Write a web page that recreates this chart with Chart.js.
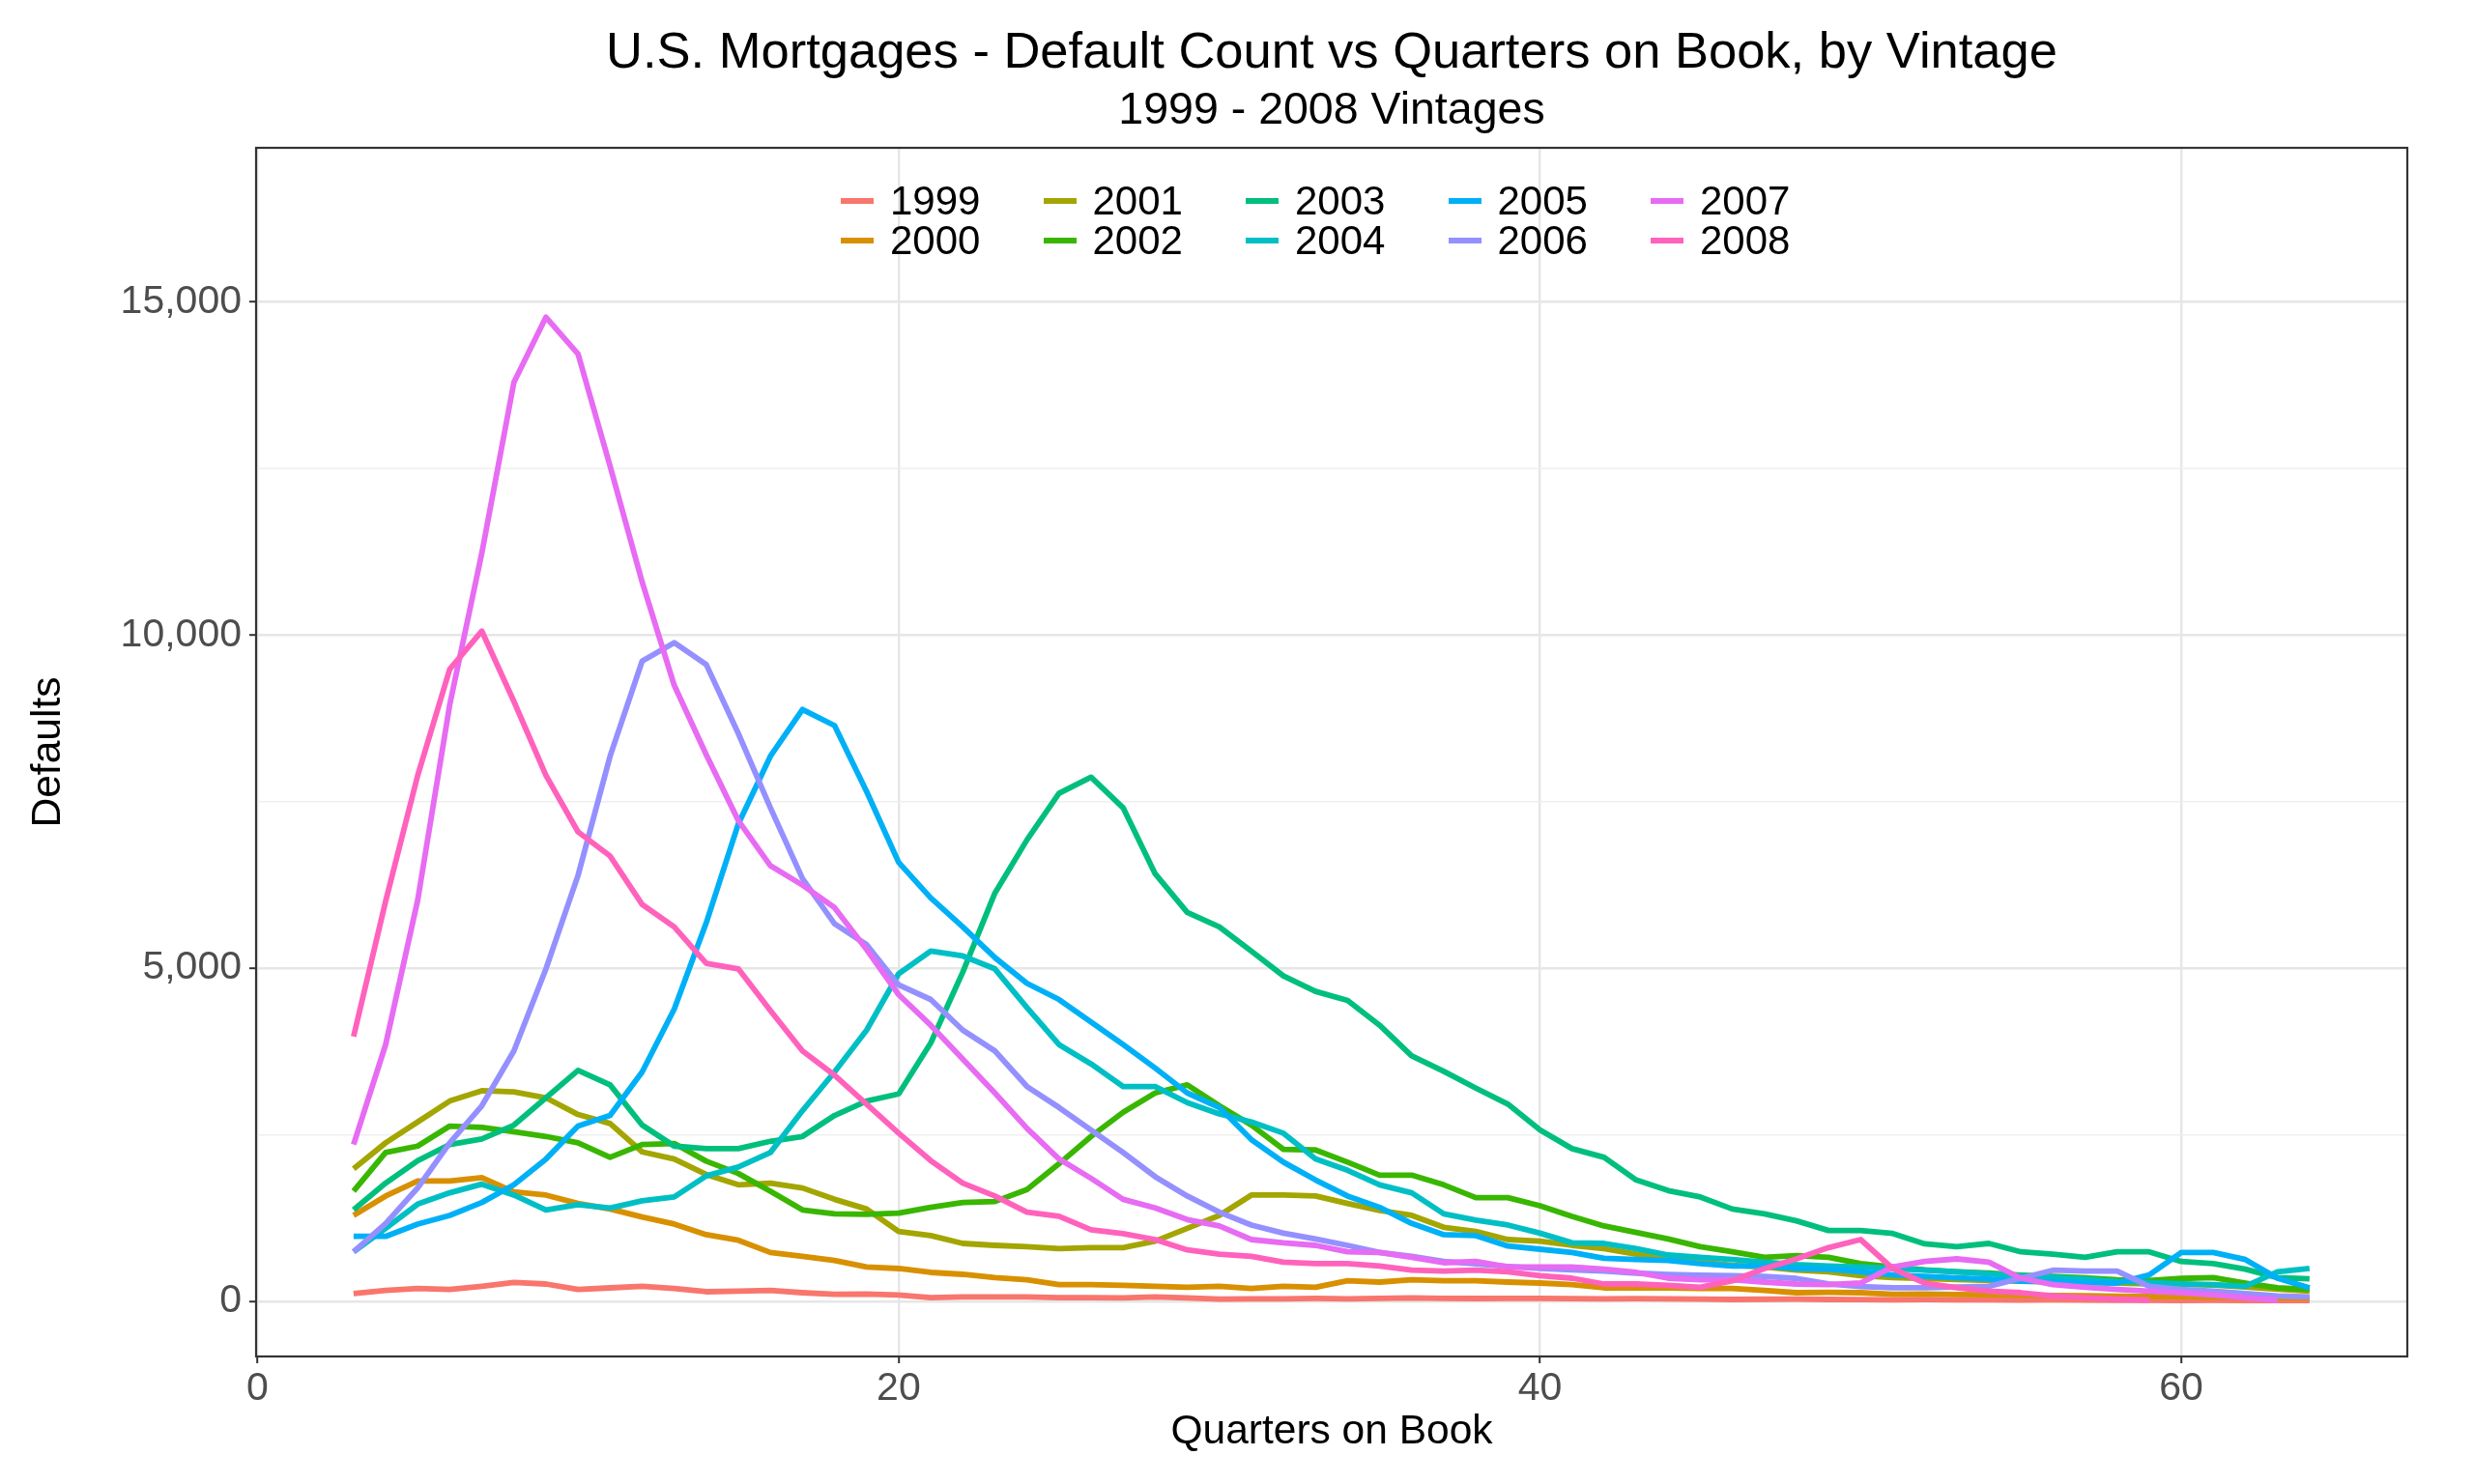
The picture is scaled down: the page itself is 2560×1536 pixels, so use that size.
<!DOCTYPE html>
<html>
<head>
<meta charset="utf-8">
<script src="https://cdn.jsdelivr.net/npm/chart.js@4.4.1/dist/chart.umd.min.js"></script>
<style>
  html, body { margin: 0; padding: 0; background: #ffffff; }
  #wrap { position: relative; width: 2560px; height: 1536px; background: #ffffff; }
  #c { position: absolute; left: 0; top: 0; }
  #legend {
    position: absolute; left: 870px; top: 187px;
    display: grid; grid-template-columns: repeat(5, 209.5px); grid-template-rows: repeat(2, 41px);
    grid-auto-flow: column;
    font-family: 'Liberation Sans', Arial, sans-serif; font-size: 42px; color: #000;
  }
  #legend .item { display: flex; align-items: center; height: 41px; line-height: 41px; white-space: nowrap; }
  #legend .key { display: inline-block; width: 34px; height: 6px; margin-right: 17px; }
</style>
</head>
<body>
<div id="wrap">
  <canvas id="c" width="2560" height="1536"></canvas>
  <div id="legend"></div>
</div>
<script>
// ---------------- data ----------------
const quarters = [3,4,5,6,7,8,9,10,11,12,13,14,15,16,17,18,19,20,21,22,23,24,25,26,27,28,29,30,31,32,33,34,35,36,37,38,39,40,41,42,43,44,45,46,47,48,49,50,51,52,53,54,55,56,57,58,59,60,61,62,63,64];
const xTicks = [0, 20, 40, 60];
const yTicks = [0, 5000, 10000, 15000];
const yMinorTicks = [2500, 7500, 12500];
const vintages = ['1999','2000','2001','2002','2003','2004','2005','2006','2007','2008'];
const colors = ['#F8766D','#D89000','#A3A500','#39B600','#00BF7D','#00BFC4','#00B0F6','#9590FF','#E76BF3','#FF62BC'];

const v1999 = [112,160,189,174,222,280,257,174,199,222, 189,141,150,160,126,102,107,92,53,63, 63,63,53,53,48,63,48,29,35,35, 40,35,40,48,40,39,40,42,38,35, 38,35,30,25,28,30,25,22,20,22, 20,18,15,18,15,12,12,10,12,10, 8,8];
const v2000 = [1287,1578,1804,1804,1853,1640,1592,1466,1383,1263, 1157,997,914,730,672,610,512,489,431,402, 353,319,247,247,237,222,208,222,189,222, 208,305,286,319,305,305,286,271,247,199, 199,199,189,189,160,126,131,126,102,107, 100,95,90,85,80,75,70,65,60,55, 50,45];
const v2001 = [1988,2376,2690,3004,3159,3140,3052,2801,2666,2240, 2134,1900,1746,1771,1698,1528,1383,1045,983,866, 837,817,788,803,803,900,1093,1287,1592,1592, 1578,1466,1360,1287,1108,1045,924,900,837,788, 706,634,585,537,512,464,440,382,353,340, 325,310,300,290,280,270,260,250,240,210, 180,150];
const v2002 = [1650,2231,2327,2627,2608,2544,2472,2376,2158,2351, 2366,2100,1916,1650,1369,1311,1302,1321,1408,1480, 1495,1674,2061,2472,2835,3125,3247,2932,2642,2279, 2269,2086,1891,1891,1746,1553,1553,1432,1272,1128, 1030,933,817,740,658,682,658,562,512,470, 440,420,390,370,350,320,310,340,353,271, 199,174];
const v2003 = [1369,1771,2109,2351,2434,2642,3052,3464,3247,2642, 2327,2289,2289,2399,2472,2787,3004,3110,3875,4940, 6125,6923,7624,7866,7406,6415,5834,5617,5254,4881, 4649,4514,4141,3682,3450,3197,2957,2569,2289,2158, 1819,1659,1563,1383,1311,1205,1060,1060,1016,860, 817,866,740,706,658,740,740,595,562,479, 353,334];
const v2004 = [740,1093,1456,1626,1756,1592,1369,1447,1398,1505, 1563,1880,2013,2231,2859,3440,4068,4916,5254,5181, 4988,4408,3851,3560,3222,3222,2980,2811,2690,2521, 2134,1964,1746,1626,1311,1215,1142,1020,875,866, 788,692,658,624,585,547,527,512,489,464, 440,410,382,360,330,295,280,260,247,222, 440,489];
const v2005 = [972,972,1156,1287,1480,1746,2133,2627,2787,3440, 4383,5680,7165,8181,8882,8640,7649,6585,6052,5617, 5157,4771,4528,4190,3851,3498,3125,2907,2424,2086, 1819,1578,1408,1166,997,983,827,779,730,643, 624,610,562,527,527,489,479,440,392,370, 350,330,300,290,280,271,392,730,730,624, 344,199];
const v2006 = [740,1165,1700,2376,2932,3755,4988,6390,8181,9608, 9884,9555,8520,7406,6343,5665,5351,4746,4528,4068, 3755,3222,2907,2569,2231,1868,1578,1335,1142,1020, 933,837,730,672,595,560,520,490,470,450, 420,400,390,380,370,340,260,220,200,200, 210,222,344,464,450,450,222,174,150,112, 77,63];
const v2007 = [2351,3850,6020,8955,11230,13793,14770,14219,12535,10794, 9245,8200,7213,6536,6245,5907,5279,4601,4141,3633, 3125,2594,2134,1843,1528,1398,1224,1128,924,875, 837,740,730,658,576,595,512,512,512,479, 431,344,319,319,286,257,247,271,512,595, 634,585,344,247,208,174,150,126,92,53, 14];
const v2008 = [3972,6004,7891,9488,10058,9003,7891,7044,6681,5955, 5617,5070,4988,4360,3755,3392,2956,2521,2109,1771, 1578,1335,1273,1070,1012,924,769,706,672,585, 562,562,527,464,450,464,440,382,344,257, 257,237,208,305,489,634,803,924,489,271, 199,150,126,77,53,29,14];

const seriesValues = [v1999, v2000, v2001, v2002, v2003, v2004, v2005, v2006, v2007, v2008];

// ---------------- chart ----------------
const FONT = "'Liberation Sans', Arial, Helvetica, sans-serif";
Chart.defaults.font.family = FONT;

const yAllTicks = yTicks.concat(yMinorTicks).sort((a, b) => a - b);
const isMinor = v => yMinorTicks.includes(v);

const datasets = vintages.map((name, i) => ({
  label: name,
  data: seriesValues[i].map((v, j) => ({ x: quarters[j], y: v })),
  borderColor: colors[i],
  backgroundColor: colors[i],
  borderWidth: 5.8,
  pointRadius: 0,
  pointHoverRadius: 0,
  tension: 0,
  fill: false,
  borderJoinStyle: 'round',
  borderCapStyle: 'butt',
  order: vintages.length - 1 - i
}));

const panelBorder = {
  id: 'panelBorder',
  afterDraw(chart) {
    const { ctx, chartArea: a } = chart;
    ctx.save();
    ctx.strokeStyle = '#333333';
    ctx.lineWidth = 2.2;
    ctx.strokeRect(a.left, a.top, a.right - a.left, a.bottom - a.top);
    ctx.restore();
  }
};

new Chart(document.getElementById('c'), {
  type: 'line',
  data: { datasets },
  plugins: [panelBorder],
  options: {
    responsive: false,
    devicePixelRatio: 1,
    animation: false,
    layout: { padding: { left: 0, right: 69, top: 0, bottom: 0 } },
    plugins: {
      legend: { display: false },
      tooltip: { enabled: false },
      title: {
        display: true,
        text: 'U.S. Mortgages - Default Count vs Quarters on Book, by Vintage',
        fullSize: false,
        color: '#000000',
        font: { size: 52.5, weight: 'normal', family: FONT },
        padding: { top: 24, bottom: 0 }
      },
      subtitle: {
        display: true,
        text: '1999 - 2008 Vintages',
        fullSize: false,
        color: '#000000',
        font: { size: 46.5, weight: 'normal', family: FONT },
        padding: { top: 0, bottom: 10.2 }
      }
    },
    scales: {
      x: {
        type: 'linear',
        bounds: 'data',
        min: -0.04,
        max: 67.05,
        afterBuildTicks: s => { s.ticks = xTicks.map(v => ({ value: v })); },
        afterFit: s => { s.height = 132; },
        ticks: {
          font: { size: 41, family: FONT },
          color: '#4D4D4D',
          padding: 2,
          autoSkip: false,
          maxRotation: 0,
          callback: v => String(v)
        },
        grid: {
          color: '#E6E6E6',
          lineWidth: 2.4,
          drawTicks: true,
          tickLength: 7,
          tickColor: '#333333',
          tickWidth: 2
        },
        border: { display: false },
        title: {
          display: true,
          text: 'Quarters on Book',
          color: '#000000',
          font: { size: 42.5, family: FONT },
          padding: { top: 0, bottom: 28.5 }
        }
      },
      y: {
        type: 'linear',
        bounds: 'data',
        min: -831,
        max: 17313,
        afterBuildTicks: s => { s.ticks = yAllTicks.map(v => ({ value: v })); },
        afterFit: s => { s.width = 265; },
        ticks: {
          font: { size: 41, family: FONT },
          color: '#4D4D4D',
          padding: 8,
          autoSkip: false,
          callback: v => (yTicks.includes(v) ? v.toLocaleString('en-US') : '')
        },
        grid: {
          color: ctx => (ctx.tick && isMinor(ctx.tick.value) ? '#EFEFEF' : '#E6E6E6'),
          lineWidth: ctx => (ctx.tick && isMinor(ctx.tick.value) ? 1.4 : 2.4),
          drawTicks: true,
          tickLength: 7,
          tickColor: ctx => (ctx.tick && isMinor(ctx.tick.value) ? 'rgba(0,0,0,0)' : '#333333'),
          tickWidth: 2
        },
        border: { display: false },
        title: {
          display: true,
          text: 'Defaults',
          color: '#000000',
          font: { size: 42.5, family: FONT },
          padding: { top: 24.5, bottom: 0 }
        }
      }
    }
  }
});

// ---------------- HTML legend (two rows, filled column by column) ----------------
const legendEl = document.getElementById('legend');
vintages.forEach((name, i) => {
  const item = document.createElement('div');
  item.className = 'item';
  const key = document.createElement('span');
  key.className = 'key';
  key.style.background = colors[i];
  const label = document.createElement('span');
  label.textContent = name;
  item.appendChild(key);
  item.appendChild(label);
  legendEl.appendChild(item);
});
</script>
</body>
</html>
